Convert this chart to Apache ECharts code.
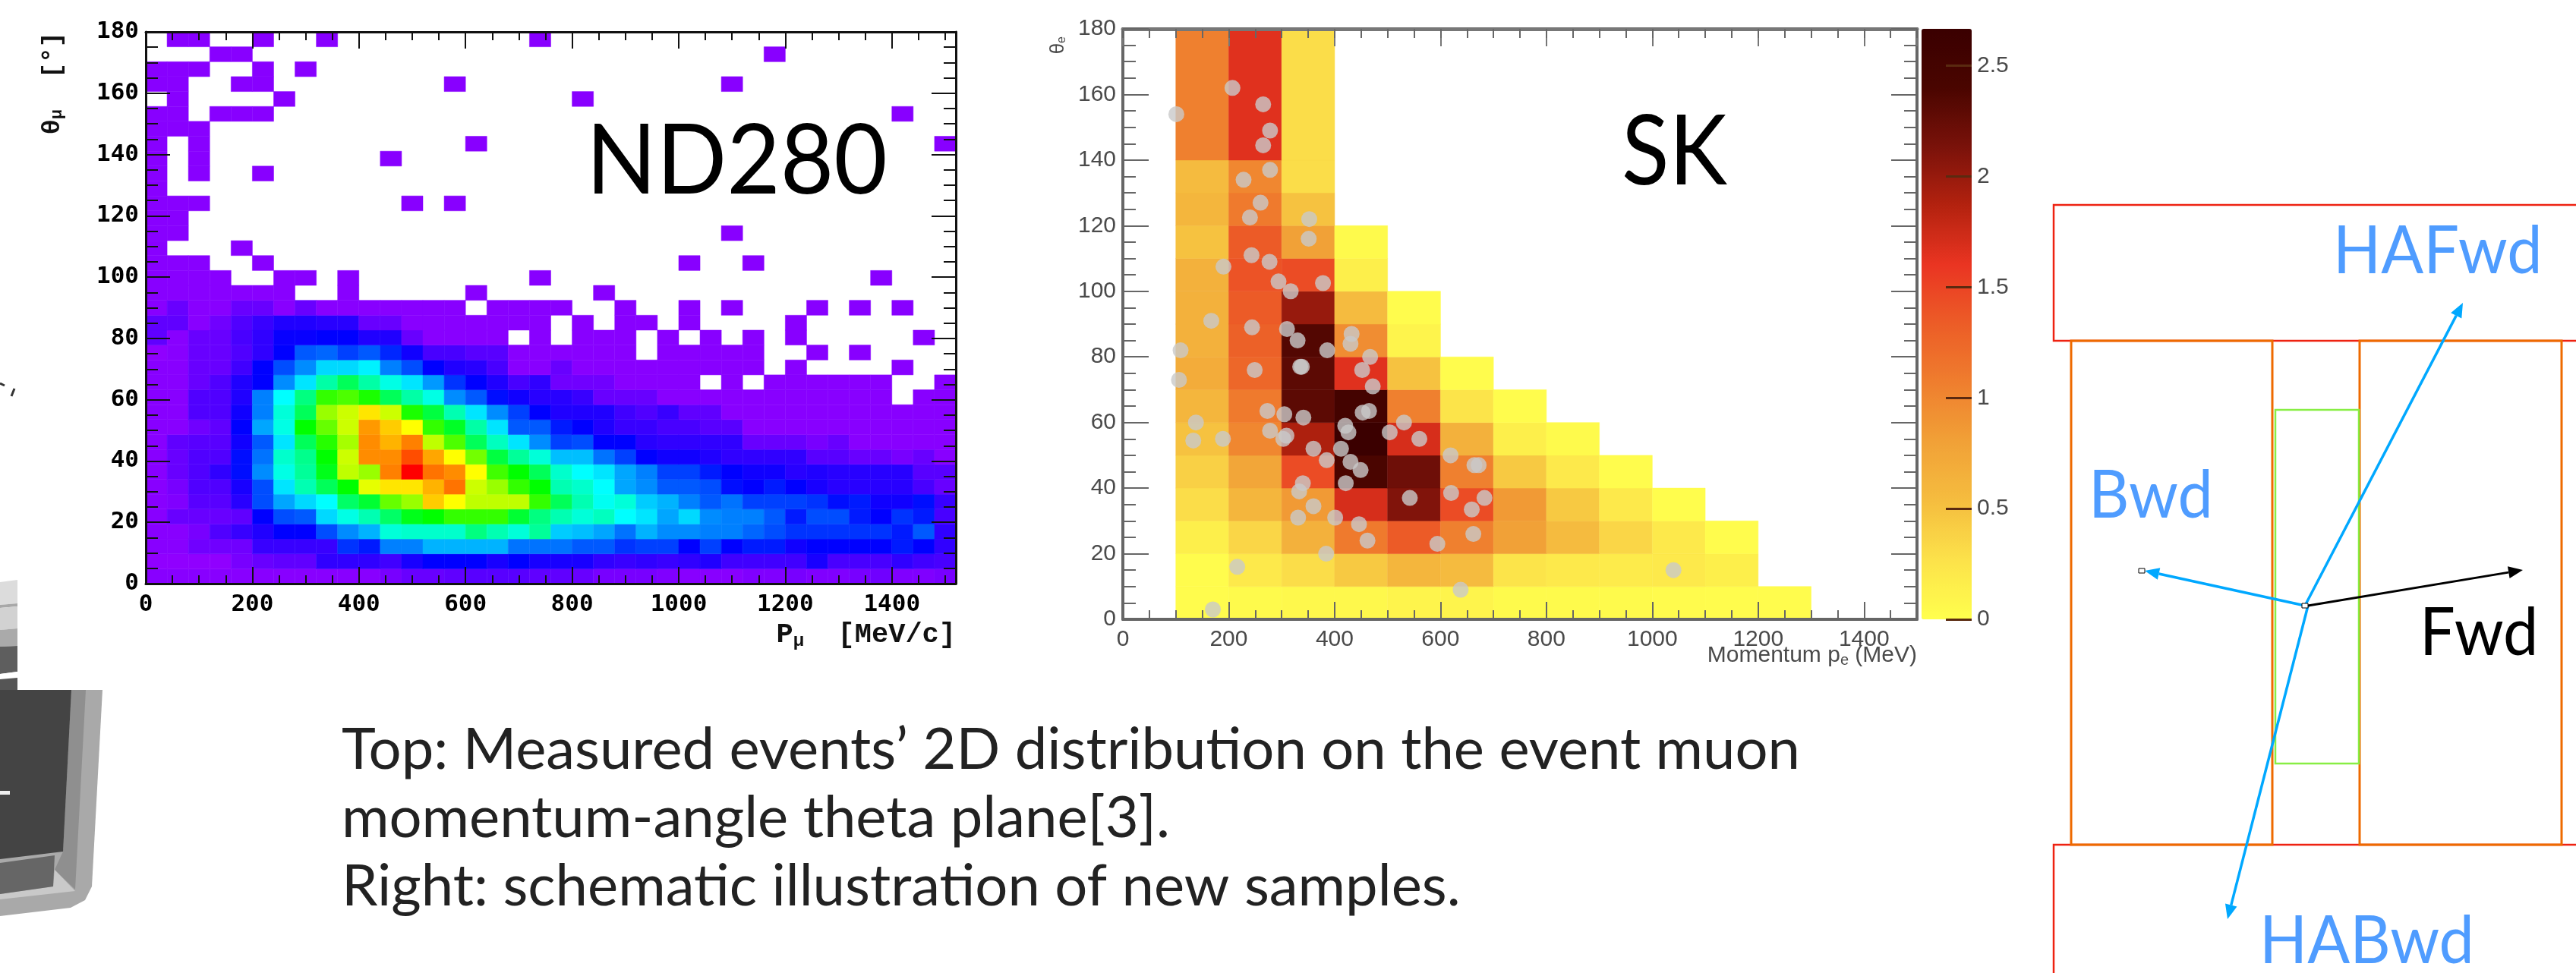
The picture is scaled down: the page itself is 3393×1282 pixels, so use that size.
<!DOCTYPE html>
<html><head><meta charset="utf-8">
<style>html,body{margin:0;padding:0;background:#fff}#c{width:3393px;height:1282px}</style>
<script src="https://cdn.jsdelivr.net/npm/echarts@6/dist/echarts.min.js"></script>
</head><body><div id="c"></div>
<script>
// ND280: colour level per 40 MeV x 180/37 deg cell, rows from theta = 0 upward, 0 = empty
const ndRows = [
[3,3,3,3,3,3,3,3,3,3,3,5,7,7,8,9,9,9,8,8,7,5,5,5,4,3,3,3,4,4,5,4,4,5,6,4,4,5],
[2,2,2,2,5,7,8,8,14,14,14,12,17,20,20,20,17,20,17,17,17,14,13,14,13,14,16,12,12,12,12,17,11,11,11,14,12,11],
[3,3,6,6,6,13,13,13,13,24,22,30,30,34,34,34,34,29,29,29,27,27,24,25,25,20,25,20,22,22,18,20,20,20,20,22,20,14],
[3,3,5,10,13,16,20,20,26,31,34,43,44,44,44,50,46,43,48,36,35,33,29,34,31,31,30,30,28,26,24,24,24,24,24,22,27,14],
[3,7,7,7,8,20,26,27,37,42,46,52,58,60,64,64,64,56,50,46,43,45,40,38,33,37,31,30,30,27,22,26,26,22,20,24,22,11],
[3,4,9,9,15,26,33,37,40,52,56,68,72,84,80,75,75,75,64,53,46,41,43,36,34,30,27,29,25,25,25,24,21,22,18,18,21,13],
[3,5,10,10,17,26,38,46,53,60,78,82,82,86,91,76,72,64,60,46,44,40,33,31,27,27,26,21,20,22,20,17,15,15,15,15,11,7],
[3,7,10,14,21,31,42,48,58,75,72,90,100,91,89,80,65,60,53,44,40,38,33,30,25,25,22,20,18,18,15,16,15,15,15,15,9,9],
[3,7,10,10,21,29,44,49,60,76,89,89,94,87,80,69,55,48,43,35,35,29,25,20,18,18,16,14,14,14,14,9,9,7,7,5,7,3],
[3,8,9,9,18,27,38,53,63,73,89,86,90,75,66,53,45,38,31,25,26,20,20,15,14,14,14,14,7,7,7,5,7,3,3,3,3,3],
[3,3,6,8,20,33,42,60,68,76,88,84,80,64,57,47,38,27,27,22,20,16,13,13,11,11,9,9,3,3,3,3,3,3,3,3,3,3],
[3,3,10,10,18,30,43,53,72,76,82,76,62,55,46,38,31,25,20,16,16,16,12,10,13,8,8,3,3,3,3,3,3,3,3,3,3,3],
[3,3,10,10,16,30,40,50,64,66,62,53,47,42,31,27,21,18,15,15,13,7,7,7,3,3,3,3,3,3,3,3,3,3,3,0,3,3],
[3,3,7,10,16,20,31,38,47,53,47,42,38,32,24,20,16,11,14,6,6,6,3,3,3,3,0,3,0,3,3,3,3,3,3,0,0,3],
[3,3,7,7,12,20,26,31,37,37,39,30,26,20,16,15,11,3,3,7,3,3,3,3,3,3,3,3,3,0,3,0,0,0,0,3,0,0],
[2,3,7,7,10,14,20,27,28,25,27,23,18,11,11,9,9,3,3,3,3,3,3,0,3,3,3,3,3,0,0,3,0,3,0,0,0,0],
[8,3,7,7,11,14,19,19,20,20,16,16,7,3,3,3,3,0,3,0,3,3,3,0,3,0,3,0,3,0,3,0,0,0,0,0,3,0],
[8,8,3,6,10,13,16,16,15,15,7,7,3,3,3,3,3,3,3,0,3,0,3,3,0,3,0,0,0,0,3,0,0,0,0,0,0,0],
[3,7,3,3,7,7,3,7,3,3,3,3,3,3,3,0,3,3,3,3,0,0,3,0,0,3,0,3,0,0,0,3,0,3,0,3,0,0]
];
// ND280: occupied columns of the sparse upper rows, from row 19 to row 36
const ndSparse = [
[0,1,2,3,4,5,6,9,15,21],[0,1,2,3,6,7,9,18,34],[0,1,2,5,25,28],[0,4],[0,1,27],[0,1],
[0,1,2,12,14],[0],[0,2,5],[0,2,11],[0,2,15,37],[0,1,2],[0,1,3,4,5,35],[1,6,20],
[0,1,4,5,14,27],[0,1,2,5,7],[3,4,29],[1,2,5,8,18]
];
const ndSparseLevel = 3;
const ndBinP = 40, ndBinTheta = 180/37;
const ndColors = ['#a000ff','#0000ff','#00ffff','#00ff00','#ffff00','#ff0000'];

// SK: events per 100 MeV x 10 deg, first column 100 MeV, rows from theta = 0 upward
const skRows = [
[.03,.05,.06,.06,.1,.1,.05,.05,.05,.04,.03,.03],
[.03,.2,.3,.45,.6,.55,.25,.2,.18,.2,.15],
[.15,.35,.65,1.1,1.35,1.05,.8,.55,.35,.2,.03],
[.3,.6,.85,1.7,2.1,1.45,.85,.45,.2,.02],
[.4,.75,1.45,2.4,2.2,1.05,.45,.2,.03],
[.5,1.0,1.9,2.65,1.7,.65,.15,.05],
[.6,1.1,2.3,2.5,1.05,.25,.03],
[.7,1.25,2.3,1.65,.5,.03],
[.65,1.3,2.35,.95,.1],
[.65,1.35,2.0,.55,.03],
[.65,1.4,1.45,.15],
[.5,1.35,.8,.05],
[.6,1.1,.5],
[.55,1.0,.3],
[1.05,1.65,.3]
];
const skBinP = 100, skBinTheta = 10, skTopRowTheta = 40, skStartP = 100;
const skEvents = [[207,162],[265,157],[101,154],[278,149],[265,144.5],[278,137],[228,134],[260,127],[240,122.5],[352,122],[351,116],[243,111],[277,109],[190,107.5],[294,103],[378,102.5],[317,100],[167,91],[244,89],[310,88.5],[330,85],[432,87],[430,84],[386,82],[109,82],[467,80],[335,77],[338,77],[249,76],[452,76],[106,73],[472,71],[273,63.5],[305,62.5],[341,61.5],[465,63.5],[453,63],[138,60],[531,60],[420,59],[426,57],[278,57.5],[504,57],[309,56],[303,55],[189,55],[133,54.5],[560,55],[412,52],[360,52],[619,50],[385,48.5],[430,48],[664,47],[672,47],[449,45.5],[340,41.5],[421,41.5],[333,39],[620,38.5],[683,37],[542,37],[360,34.5],[659,33.5],[331,31],[401,31],[446,29],[662,26],[462,24],[594,23],[384,20],[216,16],[1040,15],[638,9],[170,3]];
const skColors = ['#ffff4d','#fce24a','#f5bd3f','#f1a137','#ef7e2e','#ec5d27','#ea3522','#b4220f','#7a120a','#4a0500','#3a0000'];
const skTicksBar = [0,.5,1,1.5,2,2.5];

const ndData = [];
ndRows.forEach((row,r)=>row.forEach((v,c)=>{ if(v>0) ndData.push([c*ndBinP,r*ndBinTheta,v,ndBinTheta,ndBinP]); }));
ndSparse.forEach((cols,i)=>cols.forEach(c=>ndData.push([c*ndBinP,(i+ndRows.length)*ndBinTheta,ndSparseLevel,ndBinTheta,ndBinP])));
const skData = [];
skRows.forEach((row,r)=>row.forEach((v,c)=>{
  skData.push([skStartP+c*skBinP,r*skBinTheta,v,r===skRows.length-1?skTopRowTheta:skBinTheta,skBinP]);
}));

function cell(params,api){
  const a=api.coord([api.value(0),api.value(1)]);
  const b=api.coord([api.value(0)+api.value(4),api.value(1)+api.value(3)]);
  const color=api.visual('color');
  return {type:'rect',shape:{x:a[0],y:b[1],width:b[0]-a[0],height:a[1]-b[1]},style:{fill:color,stroke:color,lineWidth:.5}};
}
const ND={left:192,top:42,width:1067,height:727}, SK={left:1479,top:38,width:1046,height:778}, BAR={left:2531,top:38,width:66,height:778};
const plain=v=>String(v);

function xAx(o,gi,pos,label,ln,font,max,color,lw,name){
  return Object.assign({type:'value',gridIndex:gi,position:pos,min:0,max:max,interval:200,z:5,splitLine:{show:false},nameMoveOverlap:false,
    axisLine:{onZero:false,lineStyle:{color:color,width:lw}},
    axisTick:{inside:true,length:ln,lineStyle:{color:color,width:2}},
    axisLabel:label?{show:true,showMaxLabel:false,hideOverlap:false,formatter:plain,margin:o.margin,fontFamily:font.family,fontWeight:font.weight,fontSize:font.size,color:font.color}:{show:false}},name||{});
}
function yAx(o,gi,pos,label,ln,minor,font,color,lw,name){
  return Object.assign({type:'value',gridIndex:gi,position:pos,min:0,max:180,interval:20,z:5,splitLine:{show:false},nameMoveOverlap:false,
    axisLine:{onZero:false,lineStyle:{color:color,width:lw}},
    axisTick:{inside:true,length:ln,lineStyle:{color:color,width:2}},
    minorTick:{show:true,splitNumber:4,length:minor,lineStyle:{color:color,width:2}},
    axisLabel:label?{show:true,margin:o.margin,fontFamily:font.family,fontWeight:font.weight,fontSize:font.size,color:font.color}:{show:false}},name||{});
}
function minorX(gi,pos,ln,max,color){
  return {type:'value',gridIndex:gi,position:pos,min:0,max:max,interval:50,z:5,splitLine:{show:false},axisLine:{show:false,onZero:false},
    axisTick:{inside:true,length:ln,lineStyle:{color:color,width:2}},axisLabel:{show:false}};
}
const ndFont={family:'DejaVu Sans Mono',weight:'bold',size:31,color:'#000'};
const skFont={family:'Liberation Sans',weight:'normal',size:30,color:'#4a4a4a'};

const xAxis=[
  xAx({margin:12},0,'bottom',true,22,ndFont,1520,'#111',3,{name:'{a|P}{b|μ}{a|  [MeV/c]}',nameLocation:'end',nameGap:0,
    nameTextStyle:{align:'right',verticalAlign:'top',padding:[48,0,0,0],rich:{a:{fontFamily:'Liberation Mono',fontWeight:'bold',fontSize:37,color:'#111'},b:{fontFamily:'Liberation Mono',fontWeight:'bold',fontSize:24,color:'#111',padding:[16,0,0,0]}}}}),
  xAx({},0,'top',false,22,ndFont,1520,'#111',3),
  minorX(1,'bottom',11,1520,'#111'),minorX(1,'top',11,1520,'#111'),
  xAx({margin:12},2,'bottom',true,23,skFont,1500,'#666',4,{name:'{a|Momentum p}{b|e}{a| (MeV)}',nameLocation:'end',nameGap:0,
    nameTextStyle:{align:'right',verticalAlign:'top',padding:[32,0,0,0],rich:{a:{fontFamily:'Liberation Sans',fontSize:30,color:'#4a4a4a'},b:{fontFamily:'Liberation Sans',fontSize:20,color:'#4a4a4a',padding:[12,0,0,0]}}}}),
  xAx({},2,'top',false,23,skFont,1500,'#777',5),
  minorX(3,'bottom',12,1500,'#666'),minorX(3,'top',12,1500,'#666'),
  {type:'value',gridIndex:4,show:false,min:0,max:1}
];
const yAxis=[
  yAx({margin:9},0,'left',true,32,16,ndFont,'#111',3,{name:'{a|θ}{b|μ}{a|  [°]}',nameLocation:'end',nameGap:0,nameRotate:90,
    nameTextStyle:{align:'right',verticalAlign:'bottom',padding:[0,0,106,0],rich:{a:{fontFamily:'Liberation Mono',fontWeight:'bold',fontSize:34,color:'#111'},b:{fontFamily:'Liberation Mono',fontWeight:'bold',fontSize:22,color:'#111',padding:[12,0,0,0]}}}}),
  yAx({},0,'right',false,32,16,ndFont,'#111',3),
  {type:'value',gridIndex:1,show:false,min:0,max:180},{type:'value',gridIndex:1,show:false,min:0,max:180},
  yAx({margin:9},2,'left',true,34,17,skFont,'#666',4,{name:'{a|θ}{b|e}',nameLocation:'end',nameGap:0,nameRotate:90,
    nameTextStyle:{align:'right',verticalAlign:'bottom',padding:[0,10,72,0],rich:{a:{fontFamily:'Liberation Sans',fontSize:26,color:'#4a4a4a'},b:{fontFamily:'Liberation Sans',fontSize:16,color:'#4a4a4a',padding:[10,0,0,0]}}}}),
  yAx({},2,'right',false,34,17,skFont,'#666',4),
  {type:'value',gridIndex:3,show:false,min:0,max:180},{type:'value',gridIndex:3,show:false,min:0,max:180},
  {type:'value',gridIndex:4,position:'right',min:0,max:2.667,z:5,splitLine:{show:false},axisLine:{show:false,onZero:false},
   axisTick:{show:true,inside:true,length:34,customValues:skTicksBar,lineStyle:{color:'#5a2a10',width:3}},
   axisLabel:{show:true,customValues:skTicksBar,margin:7,fontFamily:'Liberation Sans',fontSize:30,color:'#4a4a4a'}}
];

// graphic annotations: slide text, schematic and the cut-off detector picture
function txt(s,x,y,size,fill,sx,extra){
  return {type:'text',x:x,y:y,scaleX:sx||1,z:20,style:Object.assign({text:s,fontFamily:'Lato',fontSize:size,fill:fill,textAlign:'left',textVerticalAlign:'top'},extra||{})};
}
function box(x0,y0,x1,y1,color,w){return {type:'rect',z:10,shape:{x:x0,y:y0,width:x1-x0,height:y1-y0},style:{fill:'none',stroke:color,lineWidth:w}};}
function arrow(x0,y0,x1,y1,color,w){
  const dx=x1-x0,dy=y1-y0,l=Math.hypot(dx,dy),ux=dx/l,uy=dy/l,hl=19,hw=8;
  const bx=x1-ux*hl,by=y1-uy*hl;
  return [{type:'line',z:12,shape:{x1:x0,y1:y0,x2:bx,y2:by},style:{stroke:color,lineWidth:w}},
    {type:'polygon',z:12,shape:{points:[[x1,y1],[bx-uy*hw,by+ux*hw],[bx+uy*hw,by-ux*hw]]},style:{fill:color}}];
}
function poly(pts,fill){return {type:'polygon',z:1,shape:{points:pts},style:{fill:fill}};}
function rect(x,y,w,h,fill){return {type:'rect',z:1,shape:{x:x,y:y,width:w,height:h},style:{fill:fill}};}
const graphic=[
  // detector fragment
  poly([[0,909],[135,909],[121,1168],[112,1186],[93,1196],[0,1207]],'#a9a9a9'),
  poly([[94,909],[113,909],[99,1172],[72,1146],[83,1122]],'#8f8f8f'),
  poly([[0,1178],[70,1168],[72,1146],[99,1174],[0,1185]],'#c9c9c9'),
  poly([[0,1137],[72,1127],[70,1168],[0,1178]],'#666'),
  poly([[0,909],[94,909],[83,1122],[0,1132]],'#444'),
  rect(0,1042,13,5,'#eee'),
  poly([[0,767],[23,764],[23,795],[0,797]],'#dcdcdc'),
  poly([[0,797],[23,795],[23,799],[0,801]],'#a8a8a8'),
  poly([[0,801],[23,799],[23,828],[0,830]],'#d2d2d2'),
  poly([[0,830],[23,828],[23,851],[0,852]],'#aaa'),
  poly([[0,852],[23,851],[23,885],[0,888]],'#5e5e5e'),
  poly([[0,888],[23,885],[23,893],[0,895]],'#fff'),
  poly([[0,895],[23,893],[23,909],[0,909]],'#555'),
  {type:'line',z:1,shape:{x1:0,y1:505,x2:6,y2:508},style:{stroke:'#333',lineWidth:3}},
  {type:'line',z:1,shape:{x1:19,y1:512,x2:15,y2:522},style:{stroke:'#333',lineWidth:3}},
  // slide text
  txt('ND280',772,150,128,'#000',.95),
  txt('SK',2136,138,128,'#000',.9),
  txt('Top: Measured events’ 2D distribution on the event muon',450,950,76,'#222',1,{fontWeight:400}),
  txt('momentum-angle theta plane[3].',450,1040,76,'#222',1,{fontWeight:400}),
  txt('Right: schematic illustration of new samples.',450,1130,76,'#222',1,{fontWeight:400}),
  // schematic
  {type:'polyline',z:10,shape:{points:[[3393,270],[2705,270],[2705,449],[3393,449]]},style:{fill:'none',stroke:'#ee2211',lineWidth:2.5}},
  {type:'polyline',z:10,shape:{points:[[3393,1113],[2705,1113],[2705,1282]]},style:{fill:'none',stroke:'#ee2211',lineWidth:2.5}},
  box(2728,449,2993,1113,'#ee6a00',3),
  box(3108,449,3374,1113,'#ee6a00',3),
  box(2997,540,3107,1006,'#88ee44',2.5),
  ...arrow(3036,798,3244,399,'#00a8ff',3.5),
  ...arrow(3036,798,2825,752,'#00a8ff',3.5),
  ...arrow(3040,798,2934,1211,'#00a8ff',3.5),
  ...arrow(3040,798,3323,751,'#000',3),
  {type:'rect',z:13,shape:{x:3032,y:795,width:8,height:6},style:{fill:'#fff',stroke:'#000',lineWidth:1}},
  {type:'rect',z:13,shape:{x:2817,y:749,width:8,height:6},style:{fill:'#fff',stroke:'#000',lineWidth:1}},
  txt('HAFwd',3073,288,88,'#4f9cff',.94),
  txt('Bwd',2751,610,88,'#4f9cff',.94),
  txt('Fwd',3187,791,88,'#000',.94),
  txt('HABwd',2976,1197,88,'#4f9cff',.94)
];

const chart=echarts.init(document.getElementById('c'),null,{renderer:'canvas'});
chart.setOption({
  animation:false,backgroundColor:'#fff',
  grid:[ND,ND,SK,SK,BAR].map(g=>Object.assign({containLabel:false},g)),
  xAxis:xAxis,yAxis:yAxis,
  visualMap:[
    {type:'continuous',show:false,seriesIndex:0,dimension:2,min:0,max:100,inRange:{color:ndColors}},
    {type:'continuous',show:true,seriesIndex:1,dimension:2,min:0,max:2.667,calculable:false,realtime:false,hoverLink:false,
     left:BAR.left,top:BAR.top,itemWidth:BAR.width,itemHeight:BAR.height,padding:0,text:null,showLabel:false,inRange:{color:skColors}}
  ],
  series:[
    {type:'custom',name:'ND280',xAxisIndex:0,yAxisIndex:0,renderItem:cell,encode:{x:0,y:1},data:ndData,z:2},
    {type:'custom',name:'SK',xAxisIndex:4,yAxisIndex:4,renderItem:cell,encode:{x:0,y:1},data:skData,z:2},
    {type:'scatter',name:'SK events',xAxisIndex:4,yAxisIndex:4,data:skEvents,symbol:'circle',symbolSize:21,itemStyle:{color:'#c9c9c9'},z:4}
  ],
  graphic:graphic
});
</script></body></html>
